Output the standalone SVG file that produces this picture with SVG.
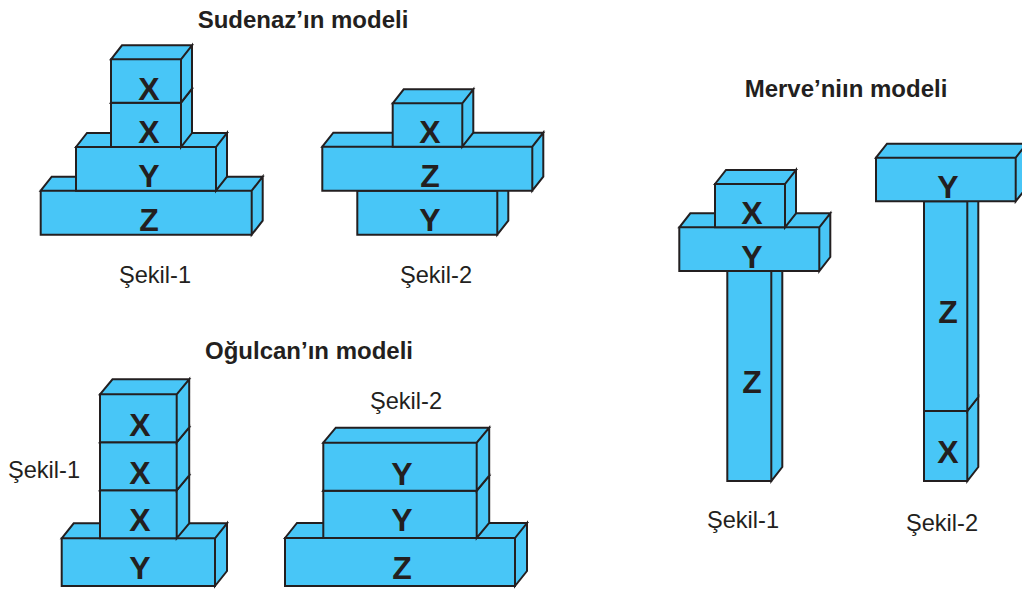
<svg xmlns="http://www.w3.org/2000/svg" width="1022" height="589" viewBox="0 0 1022 589">
<style>
.b{fill:#48c6f7;stroke:#231f20;stroke-width:2;stroke-linejoin:miter}
text{font-family:"Liberation Sans",Arial,sans-serif;fill:#231f20}
.l{font-size:32px;font-weight:700;text-anchor:middle}
.t{font-size:24px;font-weight:700;text-anchor:middle}
.c{font-size:23.600px;text-anchor:middle}
</style>
<rect width="1022" height="589" fill="#fff"/>
<text class="t" x="303" y="28">Sudenaz’ın modeli</text>
<text class="t" x="309" y="359">Oğulcan’ın modeli</text>
<text class="t" x="846" y="97">Merve’niın modeli</text>
<g id="sudenaz-sekil-1">
<path class="b" d="M40.7 190.7h211v44h-211ZM40.7 190.7l11 -14h211l-11 14ZM251.7 190.7l11 -14v44l-11 14Z"/>
<path class="b" d="M76 147h140v43.700h-140ZM76 147l11 -14h140l-11 14ZM216 147l11 -14v43.700l-11 14Z"/>
<path class="b" d="M111 102.700h70v44.300h-70ZM111 102.700l11 -14h70l-11 14ZM181 102.700l11 -14v44.300l-11 14Z"/>
<path class="b" d="M111 59.300h70v43.400h-70ZM111 59.300l11 -14h70l-11 14ZM181 59.300l11 -14v43.400l-11 14Z"/>
<text class="l" x="149" y="100">X</text><text class="l" x="149" y="143">X</text><text class="l" x="149" y="187">Y</text><text class="l" x="149" y="231">Z</text>
<text class="c" x="155" y="283">Şekil-1</text>
</g>
<g id="sudenaz-sekil-2">
<path class="b" d="M357.300 190.700h140v44h-140ZM497.300 190.700l11 -14v44l-11 14Z"/>
<path class="b" d="M322.300 146.700h210v44h-210ZM322.300 146.700l11 -14h210l-11 14ZM532.300 146.700l11 -14v44l-11 14Z"/>
<path class="b" d="M392.700 103.300h69.600v43.400h-69.600ZM392.700 103.300l11 -14h69.600l-11 14ZM462.300 103.300l11 -14v43.400l-11 14Z"/>
<text class="l" x="430" y="143">X</text><text class="l" x="430" y="187">Z</text><text class="l" x="430" y="231">Y</text>
<text class="c" x="436" y="283">Şekil-2</text>
</g>
<g id="ogulcan-sekil-1">
<path class="b" d="M61.700 538.300h153.300v47.700h-153.300ZM61.700 538.300l12 -15h153.300l-12 15ZM215 538.300l12 -15v47.700l-12 15Z"/>
<path class="b" d="M100 490.300h76.700v48h-76.700ZM100 490.300l12.500 -15h76.700l-12.500 15ZM176.700 490.300l12.500 -15v48l-12.500 15Z"/>
<path class="b" d="M100 442.300h76.700v48h-76.700ZM100 442.300l12.500 -15h76.700l-12.500 15ZM176.700 442.300l12.500 -15v48l-12.500 15Z"/>
<path class="b" d="M100 394.300h76.700v48h-76.700ZM100 394.300l12.500 -15h76.700l-12.500 15ZM176.700 394.300l12.500 -15v48l-12.500 15Z"/>
<text class="l" x="140" y="436">X</text><text class="l" x="140" y="484">X</text><text class="l" x="140" y="531">X</text><text class="l" x="140" y="579">Y</text>
<text class="c" x="44" y="478">Şekil-1</text>
</g>
<g id="ogulcan-sekil-2">
<path class="b" d="M285 538h230v48h-230ZM285 538l12 -15h230l-12 15ZM515 538l12 -15v48l-12 15Z"/>
<path class="b" d="M323.300 490.700h153.400v47.300h-153.400ZM323.300 490.700l12.500 -15h153.400l-12.500 15ZM476.700 490.700l12.500 -15v47.300l-12.500 15Z"/>
<path class="b" d="M323.300 442.700h153.400v48h-153.400ZM323.300 442.700l12.500 -15h153.400l-12.500 15ZM476.700 442.700l12.500 -15v48l-12.500 15Z"/>
<text class="l" x="402" y="485">Y</text><text class="l" x="402" y="531">Y</text><text class="l" x="402" y="579">Z</text>
<text class="c" x="406" y="409">Şekil-2</text>
</g>
<g id="merve-sekil-1">
<path class="b" d="M727.300 271h44v210h-44ZM771.300 271l11 -14v210l-11 14Z"/>
<path class="b" d="M679.300 227.300h140v43.700h-140ZM679.300 227.300l11 -14h140l-11 14ZM819.300 227.300l11 -14v43.700l-11 14Z"/>
<path class="b" d="M715 184h70v43.300h-70ZM715 184l11 -14h70l-11 14ZM785 184l11 -14v43.300l-11 14Z"/>
<text class="l" x="752" y="224">X</text><text class="l" x="752" y="268">Y</text><text class="l" x="752" y="393">Z</text>
<text class="c" x="743" y="528">Şekil-1</text>
</g>
<g id="merve-sekil-2">
<path class="b" d="M924 411h43.300v70h-43.300ZM967.300 411l11 -14v70l-11 14Z"/>
<path class="b" d="M924 201.300h43.300v209.700h-43.300ZM967.300 201.300l11 -14v209.700l-11 14Z"/>
<path class="b" d="M876 157.700h139.700v43.600h-139.700ZM876 157.700l11 -14h139.700l-11 14ZM1015.700 157.700l11 -14v43.600l-11 14Z"/>
<text class="l" x="948" y="198">Y</text><text class="l" x="948" y="323">Z</text><text class="l" x="948" y="463">X</text>
<text class="c" x="942" y="531">Şekil-2</text>
</g>
</svg>
